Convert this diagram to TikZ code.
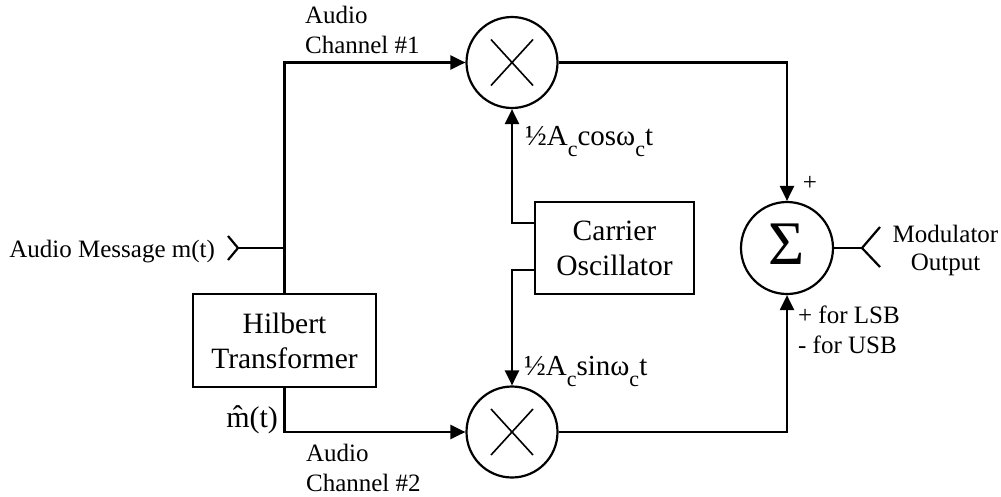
\documentclass[tikz,border=0pt]{standalone}
\usepackage{fontspec}
\setmainfont{Liberation Serif}
\usetikzlibrary{arrows.meta,positioning}

\newcommand{\lblfont}{\fontsize{25}{30}\selectfont}
\newcommand{\boxfont}{\fontsize{29.5}{35}\selectfont}
\newcommand{\fmlfont}{\fontsize{29}{34}\selectfont}
\newcommand{\subc}{\raisebox{-11pt}{\fontsize{22}{22}\selectfont c}}

\begin{document}
\begin{tikzpicture}[
        x=1pt, y=-1pt,
        line width=2.2pt,
        every node/.style={font=\lblfont, inner sep=0pt},
        block/.style={draw, rectangle, line width=2.2pt, align=center, font=\boxfont},
        mixer/.style={draw, circle, minimum size=91pt,
            path picture={\draw[line width=1.6pt]
                ([shift={(-21pt,23pt)}]path picture bounding box.center) -- ([shift={(21pt,-23pt)}]path picture bounding box.center)
                ([shift={(-21pt,-23pt)}]path picture bounding box.center) -- ([shift={(21pt,23pt)}]path picture bounding box.center);}},
        adder/.style={draw, circle, minimum size=92pt},
        arrow/.style={-{Triangle[length=15pt,width=14pt]}},
    ]
        \useasboundingbox (0,0) rectangle (1001,496);

        % Blocks
        \node (hilbert) [block, minimum width=183pt, minimum height=93pt] at (284.5,340.5) {Hilbert\\Transformer};
        \node (carrier) [block, minimum width=159pt, minimum height=92pt] at (614.5,248) {Carrier\\Oscillator};
        \node (mixA) [mixer] at (512,62.5) {};
        \node (mixB) [mixer] at (512,432) {};
        \node (sum) [adder] at (787,248) {};
        \node (sigma) [font=\fontsize{62}{62}\selectfont] at (787,244) {Σ};

        % Input and output points
        \coordinate (in) at (238,248);
        \coordinate (split) at (284.5,248);
        \coordinate (out) at (862,248);

        % --- Edges ---
        % Input
        \draw ([shift={(-10,-12)}]in) -- (in) -- ([shift={(-10,12)}]in);
        \draw (in) -- (split);
        \node (msg) [anchor=base east] at (216,257) {Audio Message m(t)};

        % Channel 1 and channel 2
        \draw [arrow] (hilbert.north) |- (mixA.west);
        \draw [arrow] (hilbert.south) |- (mixB.west);
        \node (ch1) [anchor=base west, align=left] at (304,53) {Audio\\Channel \#1};
        \node (ch2) [anchor=base west, align=left] at (305,491) {Audio\\Channel \#2};
        \node (mhat) [anchor=base east, font=\fontsize{30}{30}\selectfont] at (279,427) {\^{m}(t)};

        % Carrier to mixers
        \draw [arrow] ([yshift=25pt]carrier.west) -| (mixA.south);
        \draw [arrow] ([yshift=-22pt]carrier.west) -| (mixB.north);
        \node (cosl) [anchor=base west, font=\fmlfont] at (524,145) {½A\subc cosω\subc t};
        \node (sinl) [anchor=base west, font=\fmlfont] at (523,375) {½A\subc sinω\subc t};

        % Mixers to adder
        \draw [arrow] (mixA.east) -| (sum.north);
        \draw [arrow] (mixB.east) -| (sum.south);
        \node (plus) at (810,183) {+};
        \node (sign) [anchor=base west, align=left] at (797,353) {+ for LSB\\- for USB};

        % Output
        \draw (sum.east) -- (out);
        \draw ([shift={(18,-21)}]out) -- (out) -- ([shift={(18,19)}]out);
        \node (outl) [anchor=base, align=center, font=\fontsize{25}{28}\selectfont] at (945.5,270) {Modulator\\Output};

    \end{tikzpicture}
\end{document}
